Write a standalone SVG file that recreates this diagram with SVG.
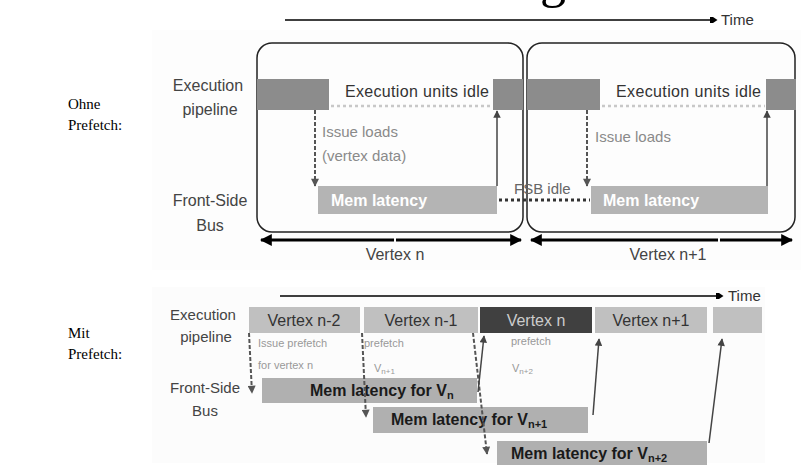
<svg xmlns="http://www.w3.org/2000/svg" width="801" height="465" viewBox="0 0 801 465">
<defs>
<style>
.lab{font-family:"Liberation Sans",Arial,sans-serif;font-size:16px;fill:#444}
.ser{font-family:"Liberation Serif","Times New Roman",serif;font-size:15px;fill:#000}
.dark{fill:#8c8c8c}
.light{fill:#b4b4b4}
.idle{font-family:"Liberation Sans",Arial,sans-serif;font-size:16px;fill:#333}
.grey{font-family:"Liberation Sans",Arial,sans-serif;font-size:15px;fill:#8a8a8a}
.mem{font-family:"Liberation Sans",Arial,sans-serif;font-size:16px;font-weight:bold;fill:#fff}
.memb{font-family:"Liberation Sans",Arial,sans-serif;font-size:16px;font-weight:bold;fill:#1a1a1a}
.vx{font-family:"Liberation Sans",Arial,sans-serif;font-size:16px;fill:#333;text-anchor:middle}
.small{font-family:"Liberation Sans",Arial,sans-serif;font-size:11px;fill:#999}
.box{fill:none;stroke:#222;stroke-width:1.5}
.dash{stroke:#555;stroke-width:2;stroke-dasharray:4,2;fill:none}
.solid{stroke:#444;stroke-width:1.5;fill:none}
.dots{stroke:#c8c8c8;stroke-width:2.5;stroke-dasharray:3,3}
.fsb{stroke:#333;stroke-width:3;stroke-dasharray:3,3}
.thick{stroke:#000;stroke-width:3}
</style>
<marker id="ah" viewBox="0 0 10 10" refX="9" refY="5" markerWidth="4" markerHeight="4" orient="auto-start-reverse" markerUnits="strokeWidth">
<path d="M0,0 L10,5 L0,10 z" fill="#000"/>
</marker>
<marker id="ag" viewBox="0 0 10 10" refX="9" refY="5" markerWidth="6" markerHeight="5" orient="auto" markerUnits="strokeWidth">
<path d="M0,0 L10,5 L0,10 z" fill="#444"/>
</marker>
<marker id="ad" viewBox="0 0 10 10" refX="9" refY="5" markerWidth="5" markerHeight="4" orient="auto" markerUnits="strokeWidth">
<path d="M0,0 L10,5 L0,10 z" fill="#555"/>
</marker>
<marker id="at" viewBox="0 0 10 10" refX="8" refY="5" markerWidth="6" markerHeight="5" orient="auto" markerUnits="strokeWidth">
<path d="M0,1 L4,1 L10,5 L4,9 L0,9 z" fill="#000"/>
</marker>
</defs>
<rect width="801" height="465" fill="#fff"/>
<rect x="152" y="30" width="649" height="240" fill="#fdfdfd"/>
<rect x="152" y="287" width="613" height="176" fill="#fcfcfc"/>
<text x="540" y="-3" font-family="Liberation Serif,serif" font-size="52" fill="#000">g</text>

<g id="labels-left">
<text class="ser" x="68" y="109">Ohne</text>
<text class="ser" x="68" y="130">Prefetch:</text>
<text class="ser" x="68" y="338">Mit</text>
<text class="ser" x="68" y="359">Prefetch:</text>
</g>

<g id="row-labels-top" class="lab" text-anchor="middle">
<text x="208" y="91">Execution</text>
<text x="210" y="115">pipeline</text>
<text x="210" y="206">Front-Side</text>
<text x="210" y="231">Bus</text>
</g>
<g id="row-labels-bottom" class="lab" text-anchor="middle" style="font-size:15px">
<text x="203" y="320">Execution</text>
<text x="206" y="342">pipeline</text>
<text x="205" y="393">Front-Side</text>
<text x="205" y="416">Bus</text>
</g>

<g id="time-top">
<line x1="285" y1="20" x2="716" y2="20" stroke="#000" stroke-width="1.5" marker-end="url(#at)"/>
<text class="lab" x="721" y="25" style="fill:#333;font-size:15px">Time</text>
</g>

<g id="vertex-n-box">
<rect class="box" x="257" y="43" width="266" height="189" rx="15"/>
<rect class="dark" x="257" y="79" width="72" height="31"/>
<rect class="dark" x="493" y="79" width="30" height="31"/>
<text class="idle" x="345" y="97" textLength="144">Execution units idle</text>
<rect class="light" x="318" y="186" width="179" height="28"/>
<text class="mem" x="331" y="206">Mem latency</text>
<text class="grey" x="322" y="137">Issue loads</text>
<text class="grey" x="322" y="161">(vertex data)</text>
</g>

<g id="vertex-n1-box">
<rect class="box" x="527" y="43" width="268" height="189" rx="15"/>
<rect class="dark" x="527" y="79" width="73" height="31"/>
<rect class="dark" x="766" y="79" width="30" height="31"/>
<text class="idle" x="616" y="97" textLength="145">Execution units idle</text>
<rect class="light" x="591" y="186" width="177" height="28"/>
<text class="mem" x="603" y="206">Mem latency</text>
<text class="grey" x="595" y="142">Issue loads</text>
</g>

<g id="connectors-top">
<line class="dots" x1="331" y1="106" x2="492" y2="106"/>
<line class="dots" x1="602" y1="106" x2="765" y2="106"/>
<line class="dash" x1="315" y1="110" x2="315" y2="186" marker-end="url(#ad)"/>
<line class="dash" x1="587" y1="110" x2="587" y2="186" marker-end="url(#ad)"/>
<line class="solid" x1="497" y1="186" x2="497" y2="111" marker-end="url(#ag)"/>
<line class="solid" x1="767" y1="186" x2="767" y2="111" marker-end="url(#ag)"/>
<line class="fsb" x1="499" y1="200" x2="590" y2="200"/>
<text class="grey" x="514" y="194" style="fill:#666">FSB idle</text>
<line class="thick" x1="261" y1="240" x2="394" y2="240" marker-start="url(#ah)"/>
<line class="thick" x1="396" y1="240" x2="521" y2="240" marker-end="url(#ah)"/>
<line class="thick" x1="531" y1="240" x2="718" y2="240" marker-start="url(#ah)"/>
<line class="thick" x1="720" y1="240" x2="792" y2="240" marker-end="url(#ah)"/>
<text class="lab" x="395" y="260" text-anchor="middle">Vertex n</text>
<text class="lab" x="668" y="260" text-anchor="middle">Vertex n+1</text>
</g>

<g id="time-bottom">
<line x1="280" y1="296" x2="722" y2="296" stroke="#000" stroke-width="1.5" marker-end="url(#at)"/>
<text class="lab" x="728" y="301" style="fill:#333;font-size:15px">Time</text>
</g>

<g id="exec-vn2"><rect fill="#c0c0c0" x="249" y="307" width="111" height="26"/><text class="vx" x="304" y="326">Vertex n-2</text></g>
<g id="exec-vn1"><rect fill="#c0c0c0" x="364" y="307" width="114" height="26"/><text class="vx" x="421" y="326">Vertex n-1</text></g>
<g id="exec-vn"><rect fill="#404040" x="480" y="307" width="112" height="26"/><text class="vx" x="536" y="326" style="fill:#ccc">Vertex n</text></g>
<g id="exec-vnp1"><rect fill="#c0c0c0" x="595" y="307" width="112" height="26"/><text class="vx" x="651" y="326">Vertex n+1</text></g>
<g id="exec-next"><rect fill="#c0c0c0" x="713" y="307" width="49" height="26"/></g>

<g id="mem-vn"><rect fill="#b0b0b0" x="262" y="378" width="215" height="25"/><text class="memb" x="310" y="396">Mem latency for V<tspan font-size="11" dy="3">n</tspan></text></g>
<g id="mem-vn1"><rect fill="#b0b0b0" x="373" y="407" width="215" height="26"/><text class="memb" x="391" y="425">Mem latency for V<tspan font-size="11" dy="3">n+1</tspan></text></g>
<g id="mem-vn2"><rect fill="#b0b0b0" x="497" y="441" width="210" height="24"/><text class="memb" x="511" y="459">Mem latency for V<tspan font-size="11" dy="3">n+2</tspan></text></g>

<g id="prefetch-notes">
<text class="small" x="258" y="347">Issue prefetch</text>
<text class="small" x="258" y="369">for vertex n</text>
<text class="small" x="364" y="347">prefetch</text>
<text class="small" x="374" y="372">V<tspan font-size="8" dy="2">n+1</tspan></text>
<text class="small" x="511" y="345">prefetch</text>
<text class="small" x="512" y="372">V<tspan font-size="8" dy="2">n+2</tspan></text>
</g>

<g id="connectors-bottom">
<line class="dash" x1="249" y1="333" x2="252" y2="393" marker-end="url(#ad)"/>
<line class="dash" x1="362" y1="333" x2="366" y2="417" marker-end="url(#ad)"/>
<line class="dash" x1="473" y1="333" x2="487" y2="454" marker-end="url(#ad)"/>
<line class="solid" x1="478" y1="392" x2="484" y2="336" marker-end="url(#ag)"/>
<line class="solid" x1="593" y1="415" x2="599" y2="339" marker-end="url(#ag)"/>
<line class="solid" x1="709" y1="443" x2="722" y2="339" marker-end="url(#ag)"/>
</g>
</svg>
